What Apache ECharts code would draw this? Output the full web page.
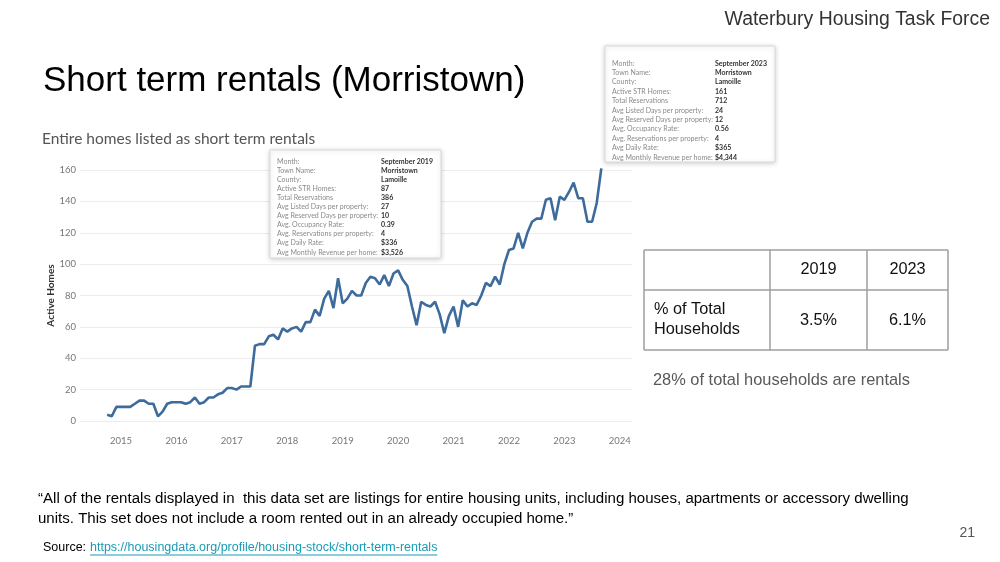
<!DOCTYPE html>
<html><head><meta charset="utf-8">
<script src="https://cdn.jsdelivr.net/npm/echarts@6/dist/echarts.min.js"></script>
<style>html,body{margin:0;padding:0;background:#fff}#c{width:1000px;height:562px}</style>
</head><body><div id="c"></div>
<script>
// ---- data ----
const startYear = 2014;
const startMonth = 10; // first month shown: October 2014 (monthly data)
const activeHomes = [
  4,3,9,9,9,9,11,13,13,11,
  11,3,6,11,12,12,12,11,12,15,
  11,12,15,15,17,18,21,21,20,22,
  22,22,48,49,49,54,55,52,59,57,
  59,60,57,63,63,71,67,78,83,72,
  91,75,78,83,80,80,88,92,91,87,
  93,86,94,96,90,86,73,61,76,74,
  73,76,68,56,67,73,60,77,73,75,
  74,80,88,86,92,87,100,109,110,120,
  110,120,127,129,129,141,142,128,143,141,
  146,152,142,142,127,127,139,161
];
const yearTicks = [2015,2016,2017,2018,2019,2020,2021,2022,2023,2024];
const yTicks = [0,20,40,60,80,100,120,140,160];
const tooltipLabels = ['Month:','Town Name:','County:','Active STR Homes:','Total Reservations','Avg Listed Days per property:','Avg Reserved Days per property:','Avg. Occupancy Rate:','Avg. Reservations per property:','Avg Daily Rate:','Avg Monthly Revenue per home:'];
const tooltip2019 = ['September 2019','Morristown','Lamoille','87','386','27','10','0.39','4','$336','$3,526'];
const tooltip2023 = ['September 2023','Morristown','Lamoille','161','712','24','12','0.56','4','$365','$4,344'];
const tableHeader = ['', '2019', '2023'];
const tableRowLabel = ['% of Total', 'Households'];
const tableRowValues = ['3.5%', '6.1%'];
const texts = {
  org: 'Waterbury Housing Task Force',
  title: 'Short term rentals (Morristown)',
  subtitle: 'Entire homes listed as short term rentals',
  yName: 'Active Homes',
  note: '28% of total households are rentals',
  quote1: '\u201cAll of the rentals displayed in  this data set are listings for entire housing units, including houses, apartments or accessory dwelling',
  quote2: 'units. This set does not include a room rented out in an already occupied home.\u201d',
  page: '21',
  sourceLabel: 'Source: ',
  sourceUrl: 'https://housingdata.org/profile/housing-stock/short-term-rentals'
};

// ---- build ----
const seriesData = activeHomes.map((v, i) => [startYear + (startMonth - 1 + i) / 12, v]);
const ARIAL = '"Liberation Sans", Arial, sans-serif';
const TAB = 'Lato, "Open Sans", sans-serif';

function measure(s, size, family, weight) {
  const t = new echarts.graphic.Text({style: {text: s, fontSize: size, fontFamily: family, fontWeight: weight || 'normal'}});
  return t.getBoundingRect().width;
}

const g = [];
function txt(x, y, s, style, extra) {
  g.push(Object.assign({type: 'text', x: x, y: y, z: 100,
    style: Object.assign({text: s, fontFamily: ARIAL, fill: '#000', verticalAlign: 'middle'}, style)}, extra || {}));
}
function line(x1, y1, x2, y2, color, w) {
  g.push({type: 'line', z: 100, shape: {x1, y1, x2, y2}, style: {stroke: color, lineWidth: w}});
}
txt(990, 20, texts.org, {fontSize: 19.4, fill: '#333', align: 'right'});
txt(43, 81, texts.title, {fontSize: 35, fill: '#000'});
txt(42, 139, texts.subtitle, {fontSize: 15.5, fill: '#555', fontFamily: TAB});

const TT_SIZE = 8;
const ttScale = Math.min(1, 101 / measure('Avg Reserved Days per property:', TT_SIZE, TAB));
const ttValScale = Math.min(1, 52 / measure('September 2019', TT_SIZE, TAB, 'bold'));

function tooltipBox(x, y, w, h, labelX, valueX, rowY0, rowStep, values) {
  g.push({type: 'rect', z: 100, shape: {x, y, width: w, height: h},
    style: {fill: '#fff', stroke: '#d9d9d9', lineWidth: 1, shadowBlur: 5, shadowColor: 'rgba(0,0,0,0.18)', shadowOffsetY: 1}});
  tooltipLabels.forEach((lab, k) => {
    txt(labelX, rowY0 + k * rowStep, lab, {fontSize: TT_SIZE, fill: '#8a8a8a', fontFamily: TAB}, {scaleX: ttScale});
    txt(valueX, rowY0 + k * rowStep, values[k], {fontSize: TT_SIZE, fill: '#333', fontFamily: TAB, fontWeight: 'bold'}, {scaleX: ttValScale});
  });
}
tooltipBox(270, 150, 171, 108, 277, 381, 161, 9.1, tooltip2019);
tooltipBox(605, 46, 170, 116, 612, 715, 63, 9.4, tooltip2023);

// table
const tb = {x0: 644, x1: 770, x2: 867, x3: 948, y0: 250, y1: 290, y2: 350};
const tc = '#9e9e9e';
[tb.y0, tb.y1, tb.y2].forEach(y => line(tb.x0, y, tb.x3, y, tc, 1.5));
[tb.x0, tb.x1, tb.x2, tb.x3].forEach(x => line(x, tb.y0, x, tb.y2, tc, 1.5));
const TS = 16.3;
txt((tb.x1 + tb.x2) / 2, 270, tableHeader[1], {fontSize: TS, fill: '#111', align: 'center'});
txt((tb.x2 + tb.x3) / 2, 270, tableHeader[2], {fontSize: TS, fill: '#111', align: 'center'});
txt(654, 310, tableRowLabel[0], {fontSize: TS, fill: '#111'});
txt(654, 330, tableRowLabel[1], {fontSize: TS, fill: '#111'});
txt((tb.x1 + tb.x2) / 2, 321, tableRowValues[0], {fontSize: TS, fill: '#111', align: 'center'});
txt((tb.x2 + tb.x3) / 2, 321, tableRowValues[1], {fontSize: TS, fill: '#111', align: 'center'});
txt(653, 380, texts.note, {fontSize: 16.4, fill: '#595959'});

txt(38, 499, texts.quote1, {fontSize: 15.05, fill: '#000'});
txt(38, 519, texts.quote2, {fontSize: 15.05, fill: '#000'});
txt(975, 533, texts.page, {fontSize: 14, fill: '#555', align: 'right'});
txt(43, 548, texts.sourceLabel, {fontSize: 12.5, fill: '#000'});
txt(90, 548, texts.sourceUrl, {fontSize: 12.5, fill: '#1a9bb5'});
const urlW = measure(texts.sourceUrl, 12.5, ARIAL);
line(90, 555, 90 + urlW, 555, '#1a9bb5', 1);

const chart = echarts.init(document.getElementById('c'), null, {renderer: 'canvas'});
chart.setOption({
  backgroundColor: '#fff',
  animation: false,
  grid: {left: 80, right: 368, top: 170, bottom: 141},
  xAxis: {
    type: 'value', min: 2014.26, max: 2024.22,
    axisLine: {show: false}, axisTick: {show: false}, splitLine: {show: false},
    axisLabel: {customValues: yearTicks, formatter: v => String(Math.round(v)), color: '#777', fontSize: 9.5, fontFamily: TAB, margin: 15}
  },
  yAxis: {
    type: 'value', min: yTicks[0], max: yTicks[yTicks.length - 1], interval: yTicks[1] - yTicks[0],
    name: texts.yName, nameLocation: 'middle', nameGap: 24, nameMoveOverlap: false,
    nameTextStyle: {fontWeight: 'bold', fontSize: 10, color: '#333', fontFamily: TAB},
    axisLine: {show: false}, axisTick: {show: false},
    axisLabel: {color: '#777', fontSize: 9.5, fontFamily: TAB, margin: 4},
    splitLine: {lineStyle: {color: '#ececec', width: 1}}
  },
  series: [{
    type: 'line', data: seriesData, showSymbol: false, clip: false,
    lineStyle: {color: '#3d6b9c', width: 2.6}, itemStyle: {color: '#3d6b9c'}
  }],
  graphic: g
});
</script></body></html>
